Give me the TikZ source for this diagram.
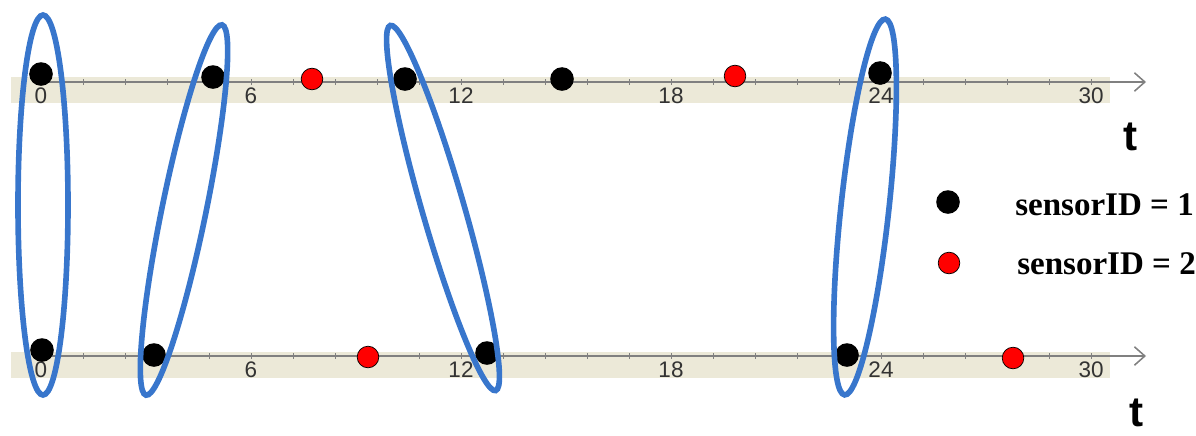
\documentclass[tikz,border=0pt]{standalone}
\usepackage{fontspec}
\setmainfont{Liberation Serif}
\newfontfamily\chartfont{Liberation Sans}
\usetikzlibrary{arrows.meta}
\definecolor{groupblue}{RGB}{56,118,204}
\definecolor{bandbeige}{RGB}{236,233,216}
\definecolor{axisgray}{RGB}{128,128,128}
\definecolor{dotred}{RGB}{255,0,0}

\begin{document}
\begin{tikzpicture}[x=0.025cm, y=-0.025cm]
  \tikzset{
    black_dot/.style={circle, fill=black, inner sep=0pt, minimum size=0.59cm},
    red_dot/.style={circle, fill=dotred, draw=black, line width=0.5pt, inner sep=0pt, minimum size=0.54cm},
    band/.style={fill=bandbeige, draw=none},
    axis_line/.style={draw=axisgray, line width=1.1pt},
    tick_mark/.style={draw=axisgray, line width=0.6pt},
    tick_label/.style={font=\chartfont\fontsize{16}{19}\selectfont, text=black!80, inner sep=0pt},
    t_label/.style={font=\chartfont\fontsize{30}{36}\selectfont\bfseries, inner sep=0pt},
    legend_label/.style={font=\fontsize{23.5}{28}\selectfont\bfseries, anchor=west, inner sep=0pt},
    group_ring/.style={draw=groupblue, line width=4pt}
  }
  \useasboundingbox (0,0) rectangle (1196,435);

  % Bandas de fondo de las dos líneas de tiempo
  \fill[band] (11,77) rectangle (1110,103);
  \fill[band] (11,352) rectangle (1110,378);

  % Ejes con flecha
  \coordinate (top_start) at (41,82);
  \coordinate (top_tail) at (908,82);
  \coordinate (top_end) at (1146,82);
  \coordinate (bot_start) at (41,356);
  \coordinate (bot_tail) at (908,356);
  \coordinate (bot_end) at (1146,356);
  \draw[axis_line, -{Straight Barb[length=2.6mm, width=4.6mm]}] (top_start) -- (top_end);
  \draw[axis_line, -{Straight Barb[length=2.6mm, width=4.6mm]}] (bot_start) -- (bot_end);
  \draw[axis_line, line width=1.8pt, shorten >=2pt] (top_tail) -- (top_end);
  \draw[axis_line, line width=1.8pt, shorten >=2pt] (bot_tail) -- (bot_end);

  % Marcas y etiquetas
  \foreach \k in {0,...,25} {
    \draw[tick_mark] ({41+42*\k},79) -- ({41+42*\k},85);
    \draw[tick_mark] ({41+42*\k},353) -- ({41+42*\k},359);
  }
  \foreach \v in {0,6,...,30} {
    \node[tick_label] (top_lbl_\v) at ({41+35*\v},96) {\v};
    \node[tick_label] (bot_lbl_\v) at ({41+35*\v},370) {\v};
  }
  \node[t_label] (top_t) at (1131,137) {t};
  \node[t_label] (bot_t) at (1137,413) {t};

  % Eventos de la línea superior
  \node[black_dot] (top_a) at (41,74) {};
  \node[black_dot] (top_b) at (213,77) {};
  \node[red_dot] (top_c) at (312,79) {};
  \node[black_dot] (top_d) at (405,79) {};
  \node[black_dot] (top_e) at (562,79) {};
  \node[red_dot] (top_f) at (735,76) {};
  \node[black_dot] (top_g) at (880,73) {};

  % Eventos de la línea inferior
  \node[black_dot] (bot_a) at (42,350) {};
  \node[black_dot] (bot_b) at (154,355) {};
  \node[red_dot] (bot_c) at (368,357) {};
  \node[black_dot] (bot_d) at (487,353) {};
  \node[black_dot] (bot_e) at (847,355) {};
  \node[red_dot] (bot_f) at (1013,358) {};

  % Emparejamientos
  \draw[group_ring] (43,205) ellipse [x radius=25, y radius=190];
  \draw[group_ring, rotate around={78.4:(184,210)}] (184,210) ellipse [x radius=189, y radius=22];
  \draw[group_ring, rotate around={106.1:(443,208)}] (443,208) ellipse [x radius=190, y radius=21];
  \draw[group_ring, rotate around={83.8:(865,207)}] (865,207) ellipse [x radius=189, y radius=24];

  % Leyenda
  \node[black_dot] (key_one) at (948,202) {};
  \node[red_dot] (key_two) at (949,263) {};
  \node[legend_label] (key_one_text) at (1015,205) {sensorID = 1};
  \node[legend_label] (key_two_text) at (1017,264) {sensorID = 2};
\end{tikzpicture}
\end{document}
